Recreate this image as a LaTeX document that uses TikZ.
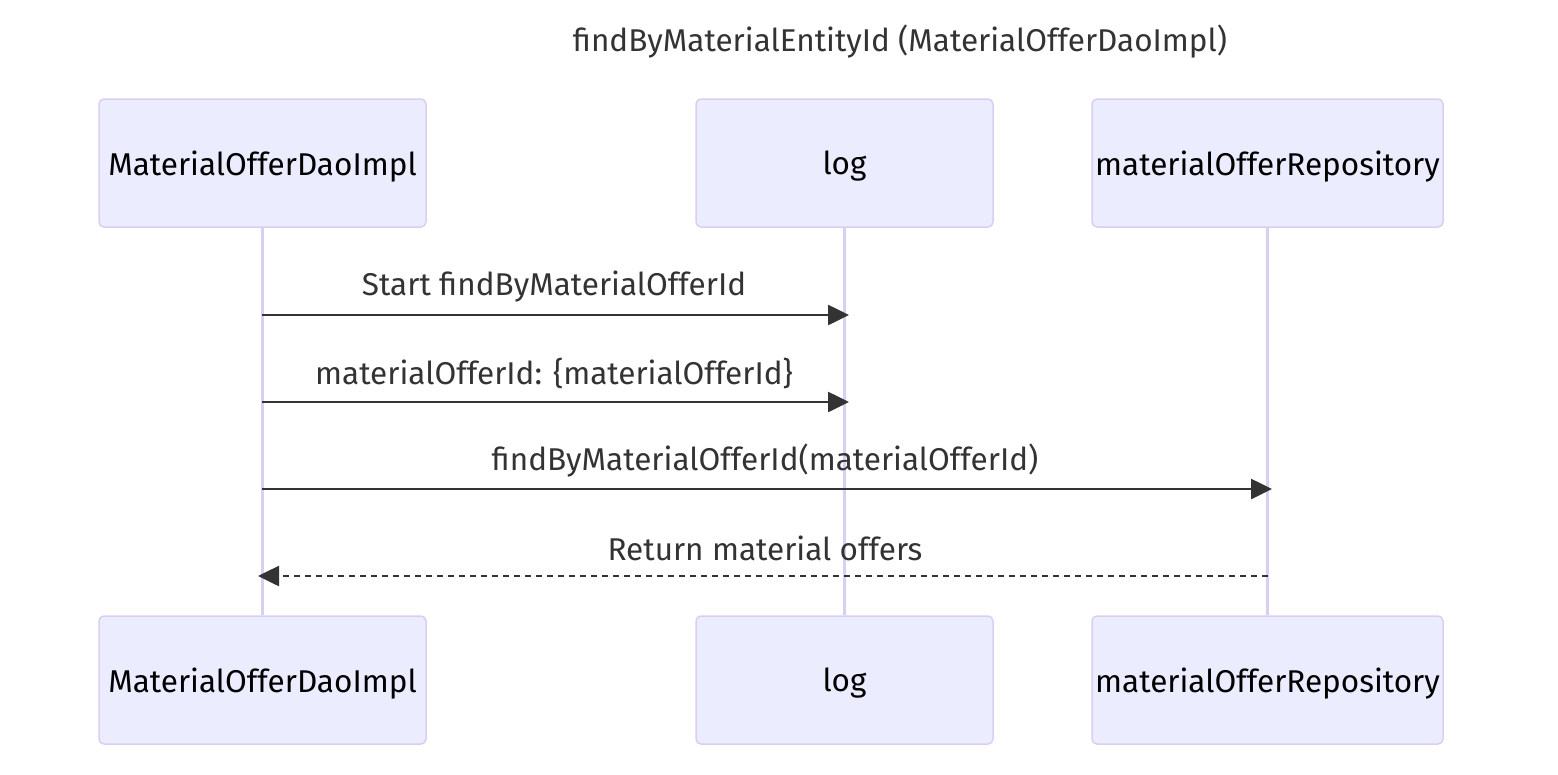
\documentclass[tikz,border=0pt]{standalone}
\usepackage{fontspec}
\setmainfont{Fira Sans}
\usetikzlibrary{arrows.meta}
\definecolor{actfill}{HTML}{ECECFF}
\definecolor{actline}{HTML}{DACEF3}
\definecolor{msg}{HTML}{333333}
\tikzset{
  actor/.style={draw=actline, line width=1.5pt, fill=actfill, rounded corners=5pt, minimum height=128pt, inner sep=0pt, text depth=0pt, font=\fontsize{31.5}{36}\selectfont, text=black},
  lifeline/.style={draw=actline, line width=3.5pt},
  msgline/.style={draw=msg, line width=2.6pt, -{Triangle[length=21pt,width=20pt]}},
  msgdash/.style={msgline, dash pattern=on 6pt off 5pt},
  msglabel/.style={font=\fontsize{31.5}{36}\selectfont, text=msg, inner sep=0pt},
}
\begin{document}
\begin{tikzpicture}[x=1pt,y=-1pt]
\useasboundingbox (0,0) rectangle (1558,774);
\node[msglabel] (title) at (900,42) {findByMaterialEntityId (MaterialOfferDaoImpl)};
% top actors
\node[actor, minimum width=327pt] (a1) at (262.5,163) {MaterialOfferDaoImpl};
\node[actor, minimum width=297pt] (a2) at (844.5,163) {log};
\node[actor, minimum width=351pt] (a3) at (1267.5,163) {materialOfferRepository};
% bottom actors
\node[actor, minimum width=327pt] (b1) at (262.5,680) {MaterialOfferDaoImpl};
\node[actor, minimum width=297pt] (b2) at (844.5,680) {log};
\node[actor, minimum width=351pt] (b3) at (1267.5,680) {materialOfferRepository};
% lifelines
\draw[lifeline] (a1.south) -- (b1.north);
\draw[lifeline] (a2.south) -- (b2.north);
\draw[lifeline] (a3.south) -- (b3.north);
% message points
\coordinate (m1s) at (262,315); \coordinate (m1e) at (849,315);
\coordinate (m2s) at (262,402); \coordinate (m2e) at (849,402);
\coordinate (m3s) at (262,489); \coordinate (m3e) at (1272,489);
\coordinate (m4s) at (1268,576); \coordinate (m4e) at (258,576);
\draw[msgline] (m1s) -- (m1e);
\draw[msgline] (m2s) -- (m2e);
\draw[msgline] (m3s) -- (m3e);
\draw[msgdash] (m4s) -- (m4e);
\node[msglabel] (l1) at (554,287) {Start findByMaterialOfferId};
\node[msglabel] (l2) at (554,373) {materialOfferId: \{materialOfferId\}};
\node[msglabel] (l3) at (765,461) {findByMaterialOfferId(materialOfferId)};
\node[msglabel] (l4) at (765,548) {Return material offers};
\end{tikzpicture}
\end{document}
